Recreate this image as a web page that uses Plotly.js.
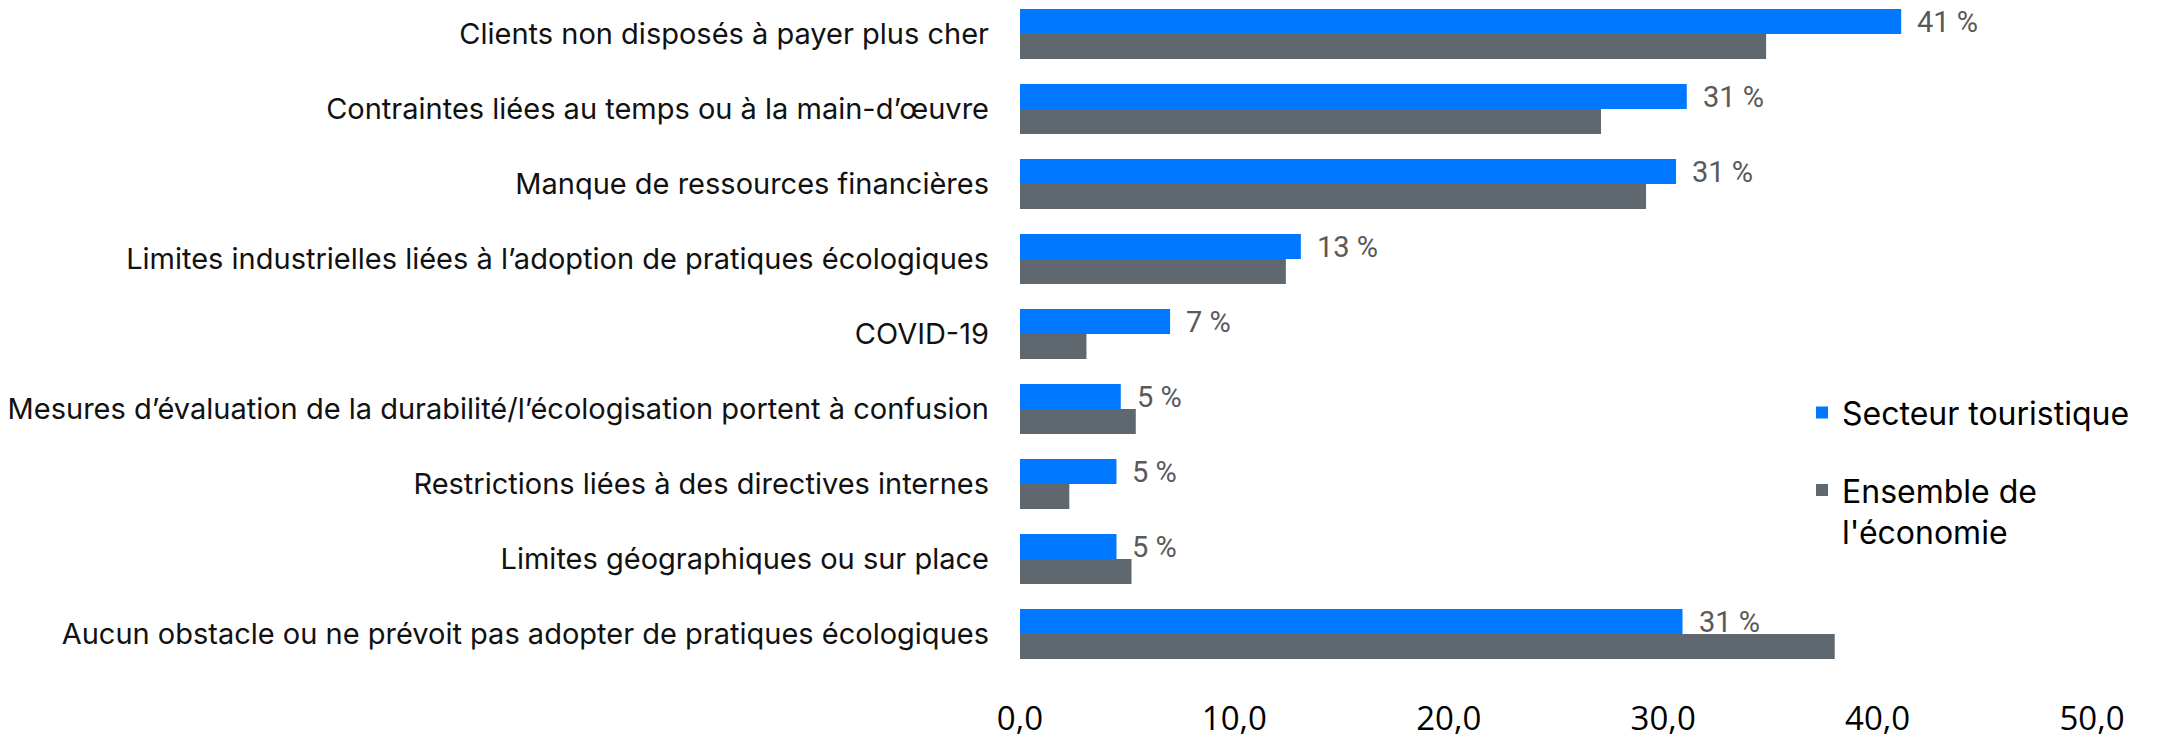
<!DOCTYPE html>
<html>
<head>
<meta charset="utf-8">
<script src="https://cdn.plot.ly/plotly-3.0.1.min.js"></script>
<style>html,body{margin:0;padding:0;background:#fff;}#chart{width:2159px;height:739px;}</style>
</head>
<body>
<div id="chart"></div>
<script>
const categories = [
  "Clients non disposés à payer plus cher",
  "Contraintes liées au temps ou à la main-d’œuvre",
  "Manque de ressources financières",
  "Limites industrielles liées à l’adoption de pratiques écologiques",
  "COVID-19",
  "Mesures d’évaluation de la durabilité/l’écologisation portent à confusion",
  "Restrictions liées à des directives internes",
  "Limites géographiques ou sur place",
  "Aucun obstacle ou ne prévoit pas adopter de pratiques écologiques"
];
const tourisme = [41.1, 31.1, 30.6, 13.1, 7.0, 4.7, 4.5, 4.5, 30.9];
const economie = [34.8, 27.1, 29.2, 12.4, 3.1, 5.4, 2.3, 5.2, 38.0];
const seriesNames = ["Secteur touristique", "Ensemble de<br>l'économie"];
const xTicks = [0, 10, 20, 30, 40, 50];

const blue = "#0078FF";
const gray = "#5E686E";

const traces = [
  {
    type: "bar", orientation: "h", name: seriesNames[0],
    y: categories, x: tourisme,
    marker: {color: blue, line: {width: 0}},
    legendgroup: "a", hoverinfo: "x"
  },
  {
    type: "bar", orientation: "h", name: seriesNames[1],
    y: categories, x: economie,
    marker: {color: gray, line: {width: 0}},
    legendgroup: "b", hoverinfo: "x"
  }
];

const annotations = tourisme.map((v, i) => ({
  x: v, y: categories[i], xref: "x", yref: "y",
  text: Math.round(v) + " %", showarrow: false,
  xanchor: "left", yanchor: "middle", xshift: 14, yshift: 12.5,
  font: {family: "Roboto, sans-serif", size: 29, color: "#595959"}
}));

const layout = {
  width: 2159, height: 739,
  margin: {l: 1020, r: 67, t: 0, b: 68, pad: 0},
  paper_bgcolor: "#ffffff", plot_bgcolor: "#ffffff",
  separators: ", ",
  barmode: "group", bargap: 1/3, bargroupgap: 0,
  font: {family: "Inter, sans-serif", color: "#000"},
  xaxis: {
    range: [0, 50], tickvals: xTicks, tickformat: ".1f",
    showgrid: false, zeroline: false, showline: false,
    ticks: "outside", ticklen: 18, tickcolor: "rgba(0,0,0,0)",
    tickfont: {family: "Open Sans, sans-serif", size: 33, color: "#000"}
  },
  yaxis: {
    type: "category",
    range: [8.4933, -0.4533],
    showgrid: false, zeroline: false, showline: false,
    ticks: "", ticklabelstandoff: 30,
    tickfont: {family: "Inter, sans-serif", size: 29, color: "#111"}
  },
  showlegend: true,
  legend: {
    x: 0.7295, xanchor: "left", y: 0.426, yanchor: "top",
    bgcolor: "rgba(0,0,0,0)", borderwidth: 0,
    traceorder: "grouped", tracegroupgap: 33, valign: "top",
    font: {family: "Inter, sans-serif", size: 32, color: "#000"}
  },
  annotations: annotations
};

Plotly.newPlot("chart", traces, layout, {displayModeBar: false, staticPlot: true});
</script>
</body>
</html>
